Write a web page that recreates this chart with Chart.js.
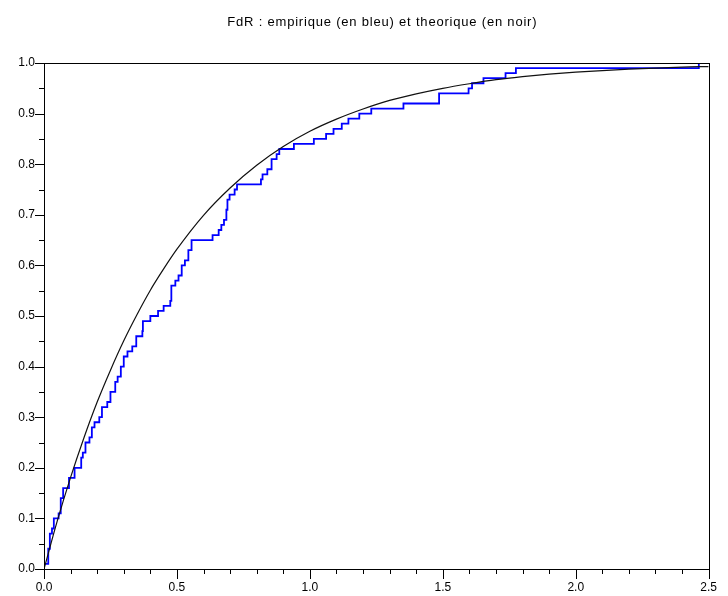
<!DOCTYPE html>
<html>
<head>
<meta charset="utf-8">
<script src="https://cdn.jsdelivr.net/npm/chart.js@4/dist/chart.umd.min.js"></script>
<style>
  html, body { margin: 0; padding: 0; background: #ffffff; }
  #wrap { width: 728px; height: 596px; }
</style>
</head>
<body>
<div id="wrap"><canvas id="c" width="728" height="596"></canvas></div>
<script>
// ---- Data ----
const chartTitle = "FdR : empirique (en bleu) et theorique (en noir)";

// Empirical CDF (blue step): jump positions and level after each jump
const empX = [0.003, 0.016, 0.022, 0.030, 0.037, 0.055, 0.063, 0.072, 0.094, 0.115,
              0.140, 0.146, 0.156, 0.171, 0.180, 0.190, 0.208, 0.218, 0.238, 0.250,
              0.268, 0.277, 0.289, 0.300, 0.314, 0.332, 0.347, 0.370, 0.372, 0.400,
              0.429, 0.450, 0.475, 0.479, 0.494, 0.506, 0.518, 0.530, 0.543, 0.555,
              0.634, 0.657, 0.667, 0.677, 0.686, 0.690, 0.698, 0.717, 0.726, 0.816,
              0.822, 0.840, 0.856, 0.875, 0.885, 0.940, 1.015, 1.061, 1.089, 1.120,
              1.145, 1.186, 1.231, 1.352, 1.486, 1.597, 1.610, 1.653, 1.736, 1.775,
              2.463, 2.500];
const empY = [0.01, 0.04, 0.07, 0.08, 0.10, 0.11, 0.14, 0.16, 0.18, 0.20,
              0.22, 0.23, 0.25, 0.26, 0.28, 0.29, 0.30, 0.32, 0.33, 0.35,
              0.37, 0.38, 0.40, 0.42, 0.43, 0.44, 0.46, 0.47, 0.49, 0.50,
              0.51, 0.52, 0.53, 0.56, 0.57, 0.58, 0.60, 0.61, 0.63, 0.65,
              0.66, 0.67, 0.68, 0.69, 0.71, 0.73, 0.74, 0.75, 0.76, 0.77,
              0.78, 0.79, 0.81, 0.82, 0.83, 0.84, 0.85, 0.86, 0.87, 0.88,
              0.89, 0.90, 0.91, 0.92, 0.94, 0.95, 0.96, 0.97, 0.98, 0.99,
              1.00, 1.00];

// Theoretical CDF (black curve), read at sample abscissae
const theoX = [0, 0.05, 0.1, 0.15, 0.2, 0.25, 0.3, 0.35, 0.4, 0.45, 0.5, 0.6, 0.7, 0.8, 0.9,
               1.0, 1.1, 1.2, 1.3, 1.4, 1.5, 1.6, 1.7, 1.8, 1.9, 2.0, 2.2, 2.4, 2.5];
const theoY = [0, 0.095, 0.181, 0.259, 0.330, 0.393, 0.451, 0.503, 0.551, 0.593, 0.632, 0.699,
               0.753, 0.798, 0.835, 0.865, 0.889, 0.909, 0.926, 0.939, 0.950, 0.959, 0.967,
               0.973, 0.978, 0.982, 0.988, 0.992, 0.993];

// Axis ticks
const xLabelTicks = [0.0, 0.5, 1.0, 1.5, 2.0, 2.5];
const xMinorStep = 0.1;
const yLabelTicks = [0.0, 0.1, 0.2, 0.3, 0.4, 0.5, 0.6, 0.7, 0.8, 0.9, 1.0];
const yMinorStep = 0.05;

const FONT = "'Liberation Sans', Arial, sans-serif";

const framePlugin = {
  id: 'frame',
  afterDraw(chart) {
    const { ctx, chartArea: a, scales } = chart;
    ctx.save();
    ctx.strokeStyle = '#000';
    ctx.lineWidth = 1;
    ctx.strokeRect(Math.round(a.left) + 0.5, Math.round(a.top) + 0.5,
                   Math.round(a.right - a.left), Math.round(a.bottom - a.top));
    ctx.beginPath();
    const xs = scales.x;
    for (let i = 0; i <= Math.round(2.5 / xMinorStep); i++) {
      const v = i * xMinorStep;
      const major = xLabelTicks.some(t => Math.abs(t - v) < 1e-6);
      const px = Math.round(xs.getPixelForValue(v)) + 0.5;
      const len = major ? 10 : 5;
      ctx.moveTo(px, Math.round(a.bottom));
      ctx.lineTo(px, Math.round(a.bottom) + len);
    }
    const ys = scales.y;
    for (let i = 0; i <= Math.round(1 / yMinorStep); i++) {
      const v = i * yMinorStep;
      const major = yLabelTicks.some(t => Math.abs(t - v) < 1e-6);
      const py = Math.round(ys.getPixelForValue(v)) + 0.5;
      const len = major ? 9 : 5;
      ctx.moveTo(Math.round(a.left), py);
      ctx.lineTo(Math.round(a.left) - len, py);
    }
    ctx.stroke();
    ctx.fillStyle = '#000';
    ctx.font = '13px ' + FONT;
    try { ctx.letterSpacing = '0.8px'; } catch (e) {}
    ctx.textAlign = 'center';
    ctx.textBaseline = 'middle';
    ctx.fillText(chartTitle, (a.left + a.right) / 2 + 6, 22);
    ctx.restore();
  }
};

new Chart(document.getElementById('c'), {
  type: 'line',
  data: {
    datasets: [
      {
        label: 'theorique',
        data: theoX.map((x, i) => ({ x: x, y: theoY[i] })),
        borderColor: '#111111',
        borderWidth: 1.2,
        pointRadius: 0,
        cubicInterpolationMode: 'monotone',
        fill: false,
        order: 0
      },
      {
        label: 'empirique',
        data: empX.map((x, i) => ({ x: x, y: empY[i] })),
        borderColor: 'rgb(0,0,255)',
        borderWidth: 1.8,
        pointRadius: 0,
        stepped: 'before',
        fill: false,
        order: 1
      }
    ]
  },
  options: {
    responsive: false,
    animation: false,
    devicePixelRatio: 1,
    layout: { padding: { top: 63, right: 12, left: 0, bottom: 0 } },
    plugins: { legend: { display: false }, title: { display: false }, tooltip: { enabled: false } },
    scales: {
      x: {
        type: 'linear',
        min: 0, max: 2.5,
        afterBuildTicks(s) { s.ticks = xLabelTicks.map(v => ({ value: v })); },
        afterFit(s) { s.height = 27; },
        grid: { display: false, drawTicks: false, tickLength: 0 },
        border: { display: false },
        ticks: {
          color: '#000',
          font: { family: FONT, size: 12 },
          padding: 11,
          maxRotation: 0,
          autoSkip: false,
          callback: v => Number(v).toFixed(1)
        }
      },
      y: {
        type: 'linear',
        min: 0, max: 1,
        afterBuildTicks(s) { s.ticks = yLabelTicks.map(v => ({ value: v })); },
        afterFit(s) { s.width = 44; },
        grid: { display: false, drawTicks: false, tickLength: 0 },
        border: { display: false },
        ticks: {
          color: '#000',
          font: { family: FONT, size: 12 },
          padding: 9,
          autoSkip: false,
          callback: v => Number(v).toFixed(1)
        }
      }
    }
  },
  plugins: [framePlugin]
});
</script>
</body>
</html>
